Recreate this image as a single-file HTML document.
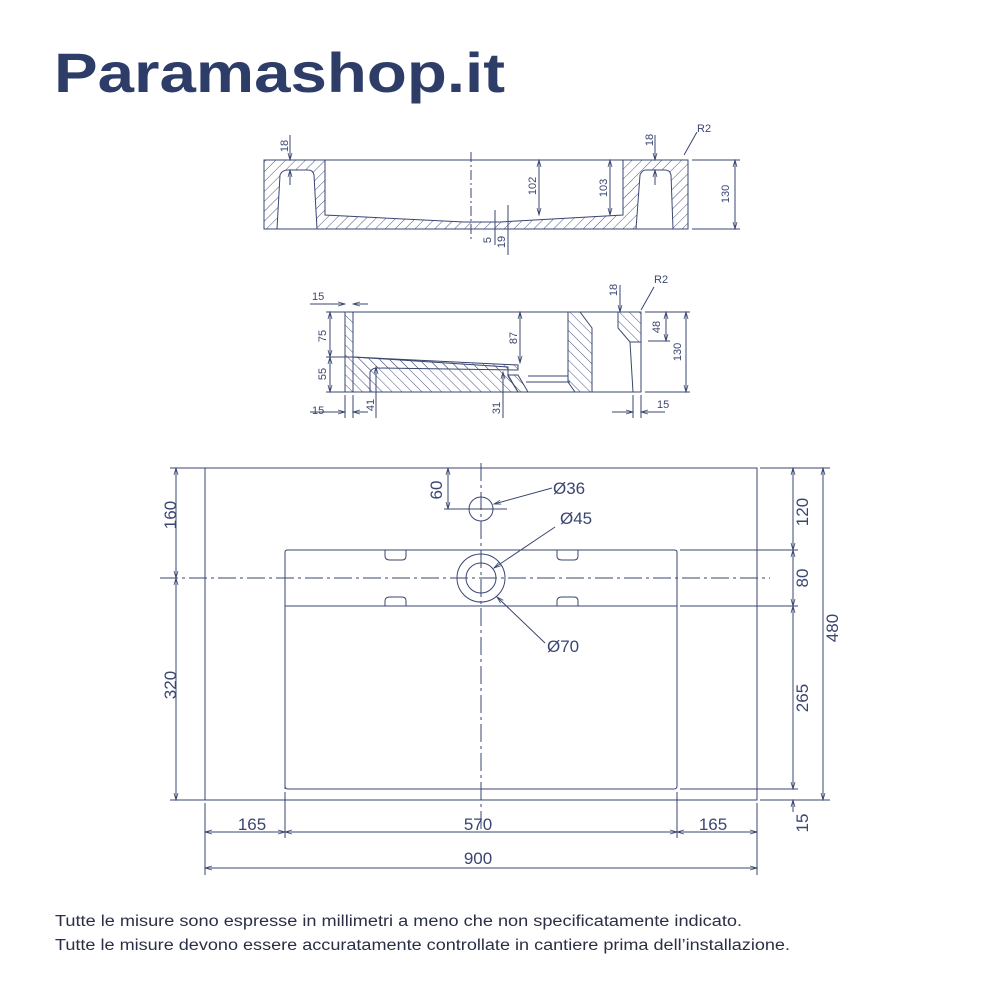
<!DOCTYPE html>
<html><head><meta charset="utf-8"><style>
html,body{margin:0;padding:0;background:#fff;width:1000px;height:1000px;overflow:hidden}
svg{display:block}
text{font-family:"Liberation Sans",sans-serif;fill:#3a4672}
</style></head><body>
<svg width="1000" height="1000" viewBox="0 0 1000 1000" xmlns="http://www.w3.org/2000/svg">
<defs>
<pattern id="h" width="7" height="7" patternUnits="userSpaceOnUse" patternTransform="rotate(45)"><line x1="0" y1="0" x2="0" y2="7" stroke="#4a5580" stroke-width="1"/></pattern>
<pattern id="h2" width="7" height="7" patternUnits="userSpaceOnUse" patternTransform="rotate(-45)"><line x1="0" y1="0" x2="0" y2="7" stroke="#4a5580" stroke-width="1"/></pattern>
<marker id="a" markerWidth="8" markerHeight="6" refX="7" refY="3" orient="auto-start-reverse" markerUnits="userSpaceOnUse"><path d="M0,1 L7,3 L0,5" fill="none" stroke="#3a4672" stroke-width="0.8"/></marker>
</defs>
<text x="54" y="92" font-size="56" font-weight="bold" textLength="451" lengthAdjust="spacingAndGlyphs" style="fill:#2e3c68">Paramashop.it</text>

<g stroke="#3a4672" stroke-width="1" fill="none">
<!-- TOP SECTION -->
<rect x="264" y="160" width="424" height="69"/>
<path d="M264,160 H325 V215 L464,222 H500 L623,215 V160 H688 V229 H264 Z M277,229 L280,175 Q282,170 288,170 H308 Q313,170 314,175 L317,229 Z M636,229 L640,175 Q642,170 646,170 H665 Q670,170 671,175 L673,229 Z" fill="url(#h)" fill-rule="evenodd"/>
<line x1="471" y1="152" x2="471" y2="240" stroke-dasharray="10,3,2,3"/>
<line x1="290" y1="135" x2="290" y2="160" marker-end="url(#a)"/>
<line x1="290" y1="185" x2="290" y2="170" marker-end="url(#a)"/>
<line x1="655" y1="135" x2="655" y2="160" marker-end="url(#a)"/>
<line x1="655" y1="185" x2="655" y2="170" marker-end="url(#a)"/>
<line x1="539" y1="160" x2="539" y2="215" marker-start="url(#a)" marker-end="url(#a)"/>
<line x1="610" y1="160" x2="610" y2="215" marker-start="url(#a)" marker-end="url(#a)"/>
<line x1="735" y1="160" x2="735" y2="229" marker-start="url(#a)" marker-end="url(#a)"/>
<line x1="692" y1="160" x2="740" y2="160"/><line x1="692" y1="229" x2="740" y2="229"/>
<line x1="495" y1="210" x2="495" y2="245"/><line x1="508" y1="205" x2="508" y2="255"/>
<line x1="684" y1="155" x2="697" y2="132"/>
<!-- MIDDLE SECTION -->
<path d="M345,312 H353 V357 L508,367 V376 L518,392 H345 Z M353,357 V392" fill="url(#h2)"/>
<path d="M353,357 L518,365 L518,370 L377,368 Q372,368 370,372 V392" fill="url(#h2)"/>
<path d="M508,375 L518,392 H528 L518,375 Z M568,312 H580 L592,328 V392 H575 L568,382 Z M618,312 H641 V342 L630,342 L618,328 Z" fill="url(#h2)"/>
<rect x="345" y="312" width="296" height="80"/>
<line x1="528" y1="376" x2="568" y2="376"/><line x1="526" y1="382" x2="570" y2="382"/>
<line x1="630" y1="342" x2="633" y2="392"/>
<line x1="310" y1="304" x2="345" y2="304" marker-end="url(#a)"/><line x1="368" y1="304" x2="353" y2="304" marker-end="url(#a)"/>
<line x1="310" y1="412" x2="345" y2="412" marker-end="url(#a)"/><line x1="368" y1="412" x2="353" y2="412" marker-end="url(#a)"/>
<line x1="345" y1="395" x2="345" y2="418"/><line x1="353" y1="395" x2="353" y2="418"/>
<line x1="330" y1="312" x2="330" y2="357" marker-start="url(#a)" marker-end="url(#a)"/>
<line x1="330" y1="357" x2="330" y2="392" marker-start="url(#a)" marker-end="url(#a)"/>
<line x1="326" y1="312" x2="345" y2="312"/><line x1="326" y1="357" x2="353" y2="357"/><line x1="326" y1="392" x2="345" y2="392"/>
<line x1="376" y1="367" x2="376" y2="418" marker-start="url(#a)"/>
<line x1="503" y1="372" x2="503" y2="418" marker-start="url(#a)"/>
<line x1="520" y1="312" x2="520" y2="363" marker-start="url(#a)" marker-end="url(#a)"/>
<line x1="620" y1="285" x2="620" y2="312" marker-end="url(#a)"/>
<line x1="666" y1="312" x2="666" y2="341" marker-start="url(#a)" marker-end="url(#a)"/>
<line x1="686" y1="312" x2="686" y2="392" marker-start="url(#a)" marker-end="url(#a)"/>
<line x1="645" y1="312" x2="690" y2="312"/><line x1="648" y1="341" x2="670" y2="341"/><line x1="645" y1="392" x2="690" y2="392"/>
<line x1="612" y1="412" x2="633" y2="412" marker-end="url(#a)"/><line x1="665" y1="412" x2="641" y2="412" marker-end="url(#a)"/>
<line x1="633" y1="395" x2="633" y2="418"/><line x1="641" y1="395" x2="641" y2="418"/>
<line x1="641" y1="310" x2="654" y2="287"/>
<!-- PLAN -->
<rect x="205" y="468" width="552" height="332"/>
<path d="M285,789 V552 Q285,550 288,550 H674 Q677,550 677,552 V786 Q677,789 674,789 H288 Q285,789 285,786"/>
<line x1="285" y1="606" x2="677" y2="606"/>
<path d="M385,550 V556 Q385,560 390,560 H402 Q406,560 406,556 V550 M557,550 V556 Q557,560 562,560 H574 Q578,560 578,556 V550 M385,606 V601 Q385,597 390,597 H402 Q406,597 406,601 V606 M557,606 V601 Q557,597 562,597 H574 Q578,597 578,601 V606"/>
<line x1="160" y1="578" x2="770" y2="578" stroke-dasharray="18,4,3,4"/>
<line x1="481" y1="463" x2="481" y2="830" stroke-dasharray="18,4,3,4"/>
<circle cx="481" cy="509" r="12"/><line x1="455" y1="509" x2="507" y2="509"/>
<circle cx="481" cy="578" r="24"/><circle cx="481" cy="578" r="15"/>
<line x1="448" y1="468" x2="448" y2="509" marker-start="url(#a)" marker-end="url(#a)"/><line x1="444" y1="509" x2="470" y2="509"/>
<line x1="552" y1="488" x2="494" y2="504" marker-end="url(#a)"/>
<line x1="555" y1="527" x2="494" y2="568" marker-end="url(#a)"/>
<line x1="545" y1="643" x2="497" y2="597" marker-end="url(#a)"/>
<line x1="176" y1="468" x2="176" y2="578" marker-start="url(#a)" marker-end="url(#a)"/>
<line x1="176" y1="578" x2="176" y2="800" marker-start="url(#a)" marker-end="url(#a)"/>
<line x1="170" y1="468" x2="205" y2="468"/><line x1="170" y1="800" x2="205" y2="800"/>
<line x1="793" y1="468" x2="793" y2="550" marker-start="url(#a)" marker-end="url(#a)"/>
<line x1="793" y1="550" x2="793" y2="606" marker-start="url(#a)" marker-end="url(#a)"/>
<line x1="793" y1="606" x2="793" y2="789" marker-start="url(#a)" marker-end="url(#a)"/>
<line x1="793" y1="800" x2="793" y2="812" marker-start="url(#a)"/>
<line x1="823" y1="468" x2="823" y2="800" marker-start="url(#a)" marker-end="url(#a)"/>
<line x1="760" y1="468" x2="830" y2="468"/><line x1="680" y1="550" x2="798" y2="550"/><line x1="680" y1="606" x2="798" y2="606"/><line x1="680" y1="789" x2="798" y2="789"/><line x1="760" y1="800" x2="830" y2="800"/>
<line x1="205" y1="803" x2="205" y2="875"/><line x1="757" y1="803" x2="757" y2="875"/><line x1="285" y1="792" x2="285" y2="838"/><line x1="677" y1="792" x2="677" y2="838"/>
<line x1="205" y1="832" x2="285" y2="832" marker-start="url(#a)" marker-end="url(#a)"/>
<line x1="285" y1="832" x2="677" y2="832" marker-start="url(#a)" marker-end="url(#a)"/>
<line x1="677" y1="832" x2="757" y2="832" marker-start="url(#a)" marker-end="url(#a)"/>
<line x1="205" y1="868" x2="757" y2="868" marker-start="url(#a)" marker-end="url(#a)"/>
</g>

<g font-size="11">
<text transform="translate(288,146) rotate(-90)" text-anchor="middle">18</text>
<text transform="translate(653,140) rotate(-90)" text-anchor="middle">18</text>
<text x="697" y="132">R2</text>
<text transform="translate(536,186) rotate(-90)" text-anchor="middle">102</text>
<text transform="translate(607,188) rotate(-90)" text-anchor="middle">103</text>
<text transform="translate(729,194) rotate(-90)" text-anchor="middle">130</text>
<text transform="translate(491,240) rotate(-90)" text-anchor="middle">5</text>
<text transform="translate(505,242) rotate(-90)" text-anchor="middle">19</text>
<text x="312" y="300">15</text><text x="312" y="414">15</text>
<text transform="translate(326,336) rotate(-90)" text-anchor="middle">75</text>
<text transform="translate(326,374) rotate(-90)" text-anchor="middle">55</text>
<text transform="translate(374,405) rotate(-90)" text-anchor="middle">41</text>
<text transform="translate(500,408) rotate(-90)" text-anchor="middle">31</text>
<text transform="translate(517,338) rotate(-90)" text-anchor="middle">87</text>
<text transform="translate(617,290) rotate(-90)" text-anchor="middle">18</text>
<text x="654" y="283">R2</text>
<text transform="translate(660,327) rotate(-90)" text-anchor="middle">48</text>
<text transform="translate(681,352) rotate(-90)" text-anchor="middle">130</text>
<text x="657" y="408">15</text>
</g>
<g font-size="17">
<text transform="translate(176,515) rotate(-90)" text-anchor="middle">160</text>
<text transform="translate(176,685) rotate(-90)" text-anchor="middle">320</text>
<text transform="translate(442,490) rotate(-90)" text-anchor="middle">60</text>
<text x="553" y="494">Ø36</text><text x="560" y="524">Ø45</text><text x="547" y="652">Ø70</text>
<text transform="translate(808,512) rotate(-90)" text-anchor="middle">120</text>
<text transform="translate(808,578) rotate(-90)" text-anchor="middle">80</text>
<text transform="translate(808,698) rotate(-90)" text-anchor="middle">265</text>
<text transform="translate(808,823) rotate(-90)" text-anchor="middle">15</text>
<text transform="translate(838,628) rotate(-90)" text-anchor="middle">480</text>
<text x="252" y="830" text-anchor="middle">165</text>
<text x="478" y="830" text-anchor="middle">570</text>
<text x="713" y="830" text-anchor="middle">165</text>
<text x="478" y="864" text-anchor="middle">900</text>
</g>
<g font-size="15.5">
<text x="55" y="926" textLength="687" lengthAdjust="spacingAndGlyphs" style="fill:#2a2f45">Tutte le misure sono espresse in millimetri a meno che non specificatamente indicato.</text>
<text x="55" y="950" textLength="735" lengthAdjust="spacingAndGlyphs" style="fill:#2a2f45">Tutte le misure devono essere accuratamente controllate in cantiere prima dell’installazione.</text>
</g>
</svg>
</body></html>
